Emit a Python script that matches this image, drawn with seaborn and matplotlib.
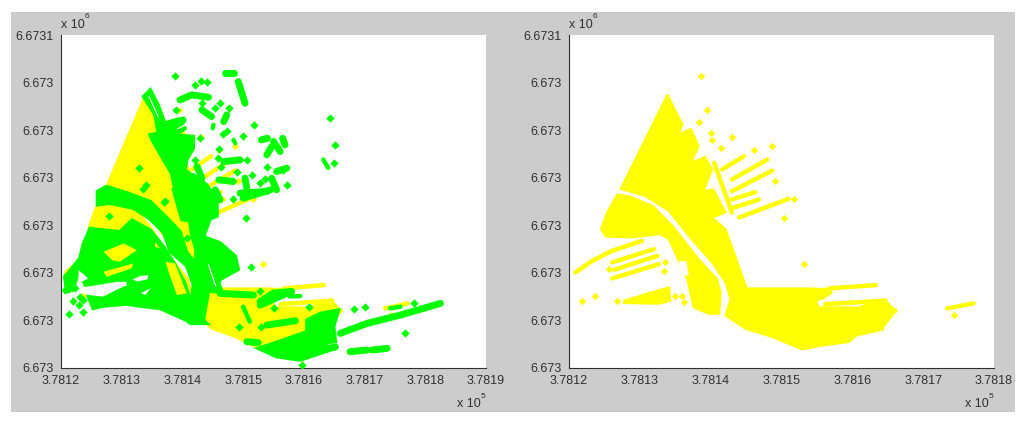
import numpy as np
import pandas as pd
import seaborn as sns
import matplotlib.pyplot as plt
from matplotlib.patches import Rectangle

# all positions are metres east of 378120 / scaled northing units above 6.673e6
yellow_x = [[13.9, 16.0, 15.4, 17.2, 18.3, 17.2, 19.2, 20.2, 19.0, 20.4, 22.1, 20.2, 22.1, 25.1, 33.4, 37.1, 37.0, 36.0, 34.8, 35.3, 40.9, 44.4, 46.1, 44.2, 40.9, 39.5, 35.3, 32.9, 28.7, 24.9, 22.1, 22.8, 22.1, 20.2, 16.9, 14.1, 10.8, 7.3],
            [6.8, 8.5, 11.8, 14.6, 18.3, 20.9, 21.4, 21.2, 19.7, 17.6, 16.7, 15.5, 14.1, 12.9, 8.9, 5.2, 4.5, 5.4],
            [7.8, 10.8, 14.1, 14.3, 12.7, 7.8]]
yellow_y = [[82.1, 73.1, 70.1, 71.8, 66.6, 61.6, 63.4, 59.6, 53.1, 53.6, 46.7, 45.2, 41.7, 23.9, 23.9, 23.7, 22.5, 21.0, 20.2, 18.2, 18.2, 20.7, 17.2, 11.8, 10.3, 7.8, 6.6, 5.6, 9.3, 11.8, 15.8, 20.7, 25.7, 31.7, 39.7, 47.2, 51.6, 53.8],
            [52.1, 51.6, 48.7, 42.7, 32.7, 26.7, 22.7, 16.3, 16.3, 18.2, 26.7, 32.2, 38.7, 40.2, 39.2, 39.5, 41.7, 46.7],
            [20.2, 22.2, 24.2, 20.2, 19.3, 19.5]]
hole_x = [15.5, 16.6, 16.9, 15.9]
hole_y = [32.2, 32.0, 27.7, 28.0]

yellow_line_x = [[0.9, 3.3, 6.1, 10.3], [21.6, 24.7], [23.0, 28.0], [23.0, 28.7], [23.0, 26.3], [23.3, 26.8], [24.0, 31.0],
                 [36.7, 43.3], [36.2, 44.7], [41.0, 44.2], [42.8, 46.1], [53.4, 57.1], [20.5, 23.0],
                 [6.1, 12.0], [6.4, 12.5], [6.1, 12.7]]
yellow_line_y = [[28.7, 32.2, 35.2, 38.2], [59.6, 63.6], [56.6, 62.6], [53.1, 59.3], [50.6, 52.8], [48.2, 50.6], [45.2, 50.8],
                 [23.9, 24.9], [19.2, 20.2], [10.3, 11.8], [14.8, 17.2], [17.9, 19.4], [61.6, 46.7],
                 [31.7, 35.7], [29.5, 33.7], [26.9, 31.2]]

yellow_pt_x = [1.9, 3.6, 6.8, 5.6, 13.6, 13.4, 15.0, 16.0, 16.2, 18.7, 19.5, 18.4, 20.0, 20.2, 21.4, 23.0, 26.1, 28.6, 29.1, 31.7, 30.4, 33.2, 54.3]
yellow_pt_y = [20.2, 21.5, 20.2, 29.7, 31.7, 29.2, 21.7, 21.7, 19.7, 87.7, 77.6, 73.8, 70.6, 68.4, 66.1, 69.3, 65.6, 66.6, 56.3, 50.8, 45.0, 31.2, 15.8]

# solid green areas
west_x = [0.9, 3.1, 3.7, 4.8, 7.0, 9.7, 11.7, 14.7, 16.9, 18.8, 20.4, 21.8, 24.0, 21.3, 19.1, 16.3, 13.0, 11.1, 11.1, 9.2, 5.9, 4.0, 2.9, 2.3, 1.2]
west_y = [27.9, 32.9, 37.4, 41.9, 41.4, 40.9, 44.4, 41.4, 36.4, 30.9, 25.4, 17.4, 13.4, 13.4, 17.9, 17.9, 18.9, 21.4, 26.4, 26.4, 25.4, 24.9, 28.9, 25.4, 25.4]
south_x = [4.5, 7.0, 9.7, 11.1, 13.0, 16.3, 19.3, 21.8, 16.3, 13.0, 10.8, 7.0, 5.3]
south_y = [21.4, 20.9, 23.4, 24.4, 21.4, 18.4, 17.9, 13.4, 17.9, 18.6, 19.2, 18.6, 17.9]
north_x = [14.7, 16.0, 17.1, 18.8, 20.2, 20.4, 19.4, 18.8, 21.8, 21.8, 20.7, 20.4, 21.5, 22.9, 24.6, 25.1, 20.2, 18.8, 18.2, 16.9, 15.0, 14.7, 16.0, 15.5, 13.6]
north_y = [83.5, 79.0, 73.5, 74.5, 75.0, 74.5, 71.5, 70.0, 69.5, 66.0, 62.5, 59.0, 58.0, 53.0, 50.5, 47.5, 47.5, 53.5, 58.5, 62.5, 68.5, 70.0, 70.5, 76.0, 81.5]
mid_block_x = [18.5, 21.8, 24.0, 25.7, 25.7, 22.9, 19.9]
mid_block_y = [53.6, 58.0, 55.0, 50.0, 45.6, 43.6, 44.6]
road_x = [21.0, 25.0, 23.6, 25.0, 26.5, 24.5, 23.0, 21.5]
road_y = [47.0, 47.0, 40.0, 30.0, 23.0, 23.0, 31.0, 40.0]
river_x = [6.0, 7.5, 11.0, 14.7, 17.5, 19.6, 20.7, 22.8, 24.2, 23.5, 21.0, 21.8, 20.7, 18.0, 16.9, 14.5, 11.9, 8.0, 6.0]
river_y = [53.0, 54.5, 52.5, 50.0, 45.0, 41.0, 34.7, 30.0, 22.0, 15.0, 14.0, 25.0, 30.7, 35.0, 40.7, 45.0, 48.0, 49.5, 49.0]
east_block_x = [22.5, 26.2, 28.7, 29.2, 26.2, 25.5, 23.0, 22.0]
east_block_y = [40.0, 37.6, 33.6, 29.6, 26.6, 23.0, 23.0, 30.0]
se_block_x = [40.5, 42.7, 45.7, 44.9, 45.2, 42.1, 45.2, 39.4, 35.5, 32.5, 36.6, 40.5]
se_block_y = [14.4, 16.4, 17.4, 12.4, 7.9, 7.4, 5.9, 2.4, 3.4, 5.9, 8.4, 10.9]
green_blob_x = [west_x, south_x, north_x, mid_block_x, road_x, river_x, east_block_x, se_block_x]
green_blob_y = [west_y, south_y, north_y, mid_block_y, road_y, river_y, east_block_y, se_block_y]

# what still shows through the green
gap_yellow_x = [[7.0, 10.3, 12.5, 9.7, 8.4], [7.0, 11.9, 11.6, 7.5], [17.2, 18.8, 20.7, 19.1, 18.0], [15.5, 16.3, 15.5]]
gap_yellow_y = [[34.9, 37.4, 35.4, 31.9, 32.4], [28.9, 31.4, 29.9, 27.4], [31.9, 31.4, 22.4, 21.9, 27.4], [37.9, 35.9, 36.4]]
gap_white_x = [[2.9, 4.5, 2.9], [11.8, 13.0, 14.4, 14.2, 12.5], [13.2, 14.2, 14.8, 13.9]]
gap_white_y = [[29.4, 26.9, 25.4], [26.6, 27.6, 27.9, 26.6, 26.0], [22.4, 23.5, 23.9, 22.0]]
slit_x = [[14.5, 16.0], [19.2, 20.6], [24.3, 25.5]]
slit_y = [[81.5, 75.5], [71.8, 73.2], [31.0, 24.5]]

mid_x = [[19.6, 21.5, 24.3], [27.0, 28.5], [29.2, 30.3], [23.2, 24.8], [27.3, 26.8], [34.0, 33.0], [35.0, 36.1], [33.9, 34.7],
         [36.5, 36.9], [26.8, 29.5], [35.5, 37.2], [34.7, 35.5], [30.3, 30.6], [26.0, 28.4], [29.5, 33.9], [30.0, 34.5],
         [25.4, 26.2], [20.7, 24.0], [22.4, 23.2], [26.2, 31.7], [32.8, 37.2], [32.8, 35.0, 38.0], [33.9, 38.6], [30.6, 32.5],
         [46.0, 50.4, 55.9, 62.5], [47.6, 50.4], [51.2, 53.7], [0.9, 1.2], [40.5, 45.2]]
mid_y = [[80.5, 82.0, 81.3], [88.5, 88.5], [86.0, 79.5], [77.5, 75.5], [76.0, 74.0], [69.0, 68.5], [68.0, 65.0], [64.0, 66.5],
         [69.0, 67.0], [62.0, 62.5], [59.0, 60.0], [57.0, 53.5], [57.0, 54.0], [56.5, 56.0], [52.5, 53.0], [51.0, 53.5],
         [53.5, 50.5], [58.5, 53.0], [60.5, 57.0], [22.4, 21.9], [18.9, 22.4], [20.0, 22.5, 23.0], [12.9, 14.2], [7.9, 7.6],
         [10.4, 13.4, 15.9, 19.4], [4.9, 5.4], [5.4, 5.9], [27.4, 23.4], [4.8, 6.3]]

thin_x = [[30.0, 31.1], [43.2, 44.0], [54.2, 55.9], [28.4, 28.7], [37.7, 39.4], [25.1, 25.0], [19.6, 20.4]]
thin_y = [[18.4, 13.9], [62.6, 60.1], [17.9, 18.4], [68.5, 67.5], [21.5, 21.6], [73.0, 72.0], [71.0, 72.0]]

green_pt_x = [18.7, 22.1, 23.0, 24.1, 19.0, 23.2, 25.4, 27.6, 26.2, 31.8, 22.9, 26.6, 27.4, 30.0, 26.1, 25.8, 22.1, 37.2, 33.6, 32.7,
              31.4, 29.0, 26.3, 30.6, 33.9, 36.6, 28.4, 12.9, 14.0, 13.5, 17.0, 19.5, 44.3, 45.2, 45.0, 30.5, 31.3, 1.3, 1.9, 3.1,
              3.7, 3.0, 3.7, 1.8, 0.7, 2.3, 7.9, 32.8, 35.0, 40.8, 29.4, 33.0, 48.2, 50.1, 56.7, 39.7, 58.1, 20.7, 17.1]
green_pt_y = [87.8, 85.0, 86.3, 85.8, 77.5, 79.5, 78.0, 78.2, 79.7, 73.0, 69.2, 70.3, 71.2, 69.7, 65.7, 63.2, 62.5, 55.0, 56.7, 55.7,
              58.0, 59.0, 60.3, 62.5, 60.5, 59.5, 50.7, 60.0, 55.0, 53.8, 49.7, 51.0, 75.0, 67.0, 61.6, 45.0, 30.4, 16.2, 20.1, 21.4,
              20.4, 18.9, 16.9, 23.9, 23.4, 23.9, 45.7, 23.2, 17.9, 18.4, 12.4, 12.4, 17.7, 18.2, 10.4, 0.9, 19.4, 39.0, 50.2]

left_xticks = ["3.7812", "3.7813", "3.7814", "3.7815", "3.7816", "3.7817", "3.7818", "3.7819"]
right_xticks = left_xticks[:-1]
ytick_labels = ["6.673", "6.673", "6.673", "6.673", "6.673", "6.673", "6.673", "6.6731"]

YELLOW = "#ffff00"
GREEN = "#00ff00"
W, H = 1024, 422


def lines_frame(xs, ys):
    rows = []
    for i, (x, y) in enumerate(zip(xs, ys)):
        rows.append(pd.DataFrame({"x": x, "y": y, "stroke": i}))
    return pd.concat(rows, ignore_index=True)


def draw_lines(ax, xs, ys, color, width, z=3):
    sns.lineplot(data=lines_frame(xs, ys), x="x", y="y", units="stroke", estimator=None, sort=False,
                 color=color, linewidth=width, solid_capstyle="round", legend=False, ax=ax, zorder=z)


def draw_yellow(ax):
    for x, y in zip(yellow_x, yellow_y):
        ax.fill(x, y, color=YELLOW, lw=1.5, zorder=2)
    ax.fill(hole_x, hole_y, color="white", lw=0, zorder=2)
    draw_lines(ax, yellow_line_x, yellow_line_y, YELLOW, 3.2)
    sns.scatterplot(x=yellow_pt_x, y=yellow_pt_y, color=YELLOW, marker="D", s=14, linewidth=0, ax=ax, zorder=3)


def draw_green(ax):
    for x, y in zip(green_blob_x, green_blob_y):
        ax.fill(x, y, color=GREEN, lw=2.5, zorder=4)
    draw_lines(ax, mid_x, mid_y, GREEN, 5, z=4)
    draw_lines(ax, thin_x, thin_y, GREEN, 3.2, z=4)
    sns.scatterplot(x=green_pt_x, y=green_pt_y, color=GREEN, marker="D", s=18, linewidth=0, ax=ax, zorder=5)
    for x, y in zip(gap_yellow_x, gap_yellow_y):
        ax.fill(x, y, color=YELLOW, lw=0, zorder=6)
    for x, y in zip(gap_white_x, gap_white_y):
        ax.fill(x, y, color="white", lw=0, zorder=6)
    draw_lines(ax, slit_x, slit_y, "white", 0.8, z=6)


def style_axes(ax, labels):
    ax.set_xlim(0, 10 * (len(labels) - 1))
    ax.set_ylim(0, 100)
    ax.set_xticks(np.arange(len(labels)) * 10)
    ax.set_xticklabels(labels)
    ax.set_yticks(np.linspace(0, 100, 8))
    ax.set_yticklabels(ytick_labels)
    ax.set_xlabel("")
    ax.set_ylabel("")
    ax.tick_params(direction="in", length=3, width=0.8, pad=5, labelsize=9, colors="#303030")
    for s in ["top", "right"]:
        ax.spines[s].set_visible(False)
    for s in ["left", "bottom"]:
        ax.spines[s].set_color("#303030")
        ax.spines[s].set_linewidth(0.8)


sns.set_style("white")
plt.rcParams["font.family"] = ["Liberation Sans", "DejaVu Sans"]

fig = plt.figure(figsize=(W / 100, H / 100), dpi=100, facecolor="white")
fig.add_artist(Rectangle((11 / W, 1 - 412 / H), 1004 / W, 400 / H, transform=fig.transFigure, color="#cccccc", lw=0, zorder=-5))

ax1 = fig.add_axes([61 / W, 1 - 368 / H, 425 / W, 333 / H])
ax2 = fig.add_axes([569 / W, 1 - 368 / H, 425 / W, 333 / H])

draw_yellow(ax1)
draw_green(ax1)
draw_yellow(ax2)
style_axes(ax1, left_xticks)
style_axes(ax2, right_xticks)


def px_text(x, y, s, size):
    fig.text(x / W, 1 - y / H, s, fontsize=size, color="#303030", ha="left", va="center")


for x0 in (61, 569):
    px_text(x0, 25, "x 10", 9)
    px_text(x0 + 24, 17, "6", 6)
    px_text(x0 + 396, 404, "x 10", 9)
    px_text(x0 + 420, 396, "5", 6)

fig.savefig("out.png", dpi=100)
